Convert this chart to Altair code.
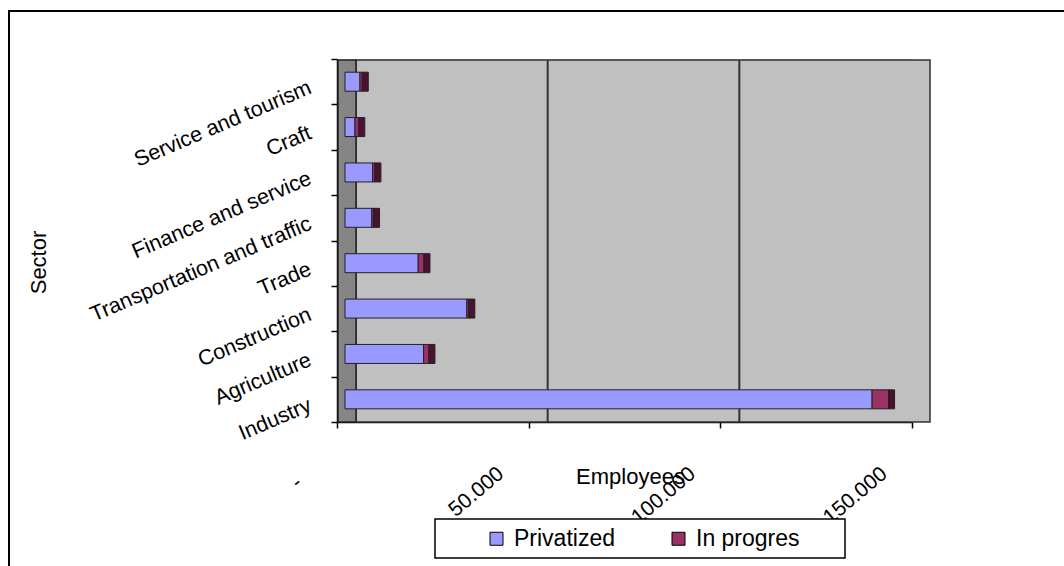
import altair as alt
import pandas as pd

# ---- data ----
sectors = ["Industry", "Agriculture", "Construction", "Trade",
           "Transportation and traffic", "Finance and service", "Craft",
           "Service and tourism"]
privatized = [137500, 20500, 31800, 19100, 7000, 7200, 2600, 3900]
in_progress = [4300, 1400, 500, 1500, 450, 600, 1000, 600]

series_names = ["Privatized", "In progres"]
series_colors = ["#9999FF", "#993366"]
x_tick_values = [0, 50000, 100000, 150000]
x_tick_labels = ["-", "50.000", "100.000", "150.000"]
gridline_values = [50000, 100000]
x_max = 150000

# ---- tables built from the arrays ----
rows = []
for i, s in enumerate(sectors):
    rows.append({"Sector": s, "Series": series_names[0], "Employees": privatized[i], "order": 0})
    rows.append({"Sector": s, "Series": series_names[1], "Employees": in_progress[i], "order": 1})
df = pd.DataFrame(rows)
totals = pd.DataFrame({"Sector": sectors,
                       "Total": [p + q for p, q in zip(privatized, in_progress)]})
grid_df = pd.DataFrame({"v": gridline_values})
one = pd.DataFrame({"k": [0]})

W, H = 575, 363
FONT = "Liberation Sans"

label_expr = " : ".join(
    f"datum.value == {v} ? '{t}'" for v, t in zip(x_tick_values, x_tick_labels)
) + " : ''"

xscale = alt.Scale(domain=[0, x_max], nice=False, zero=True)
yscale = alt.Scale(domain=list(reversed(sectors)), paddingInner=0, paddingOuter=0)

x_axis = alt.Axis(
    title="Employees", values=x_tick_values, labelExpr=label_expr,
    grid=False, tickSize=6, tickColor="black", tickWidth=1.5,
    domainColor="black", domainWidth=1.5,
    labelAngle=320, labelAlign="right", labelBaseline="middle",
    labelPadding={"condition": {"test": "datum.value == 0", "value": 52}, "value": 43},
    labelOffset={"condition": {"test": "datum.value == 0", "value": -38}, "value": -28},
    labelFontSize=21, labelFont=FONT, labelColor="black",
    labelOverlap=False, labelFlush=False, labelBound=False,
    titleFontSize=22, titleFont=FONT, titleFontWeight="normal", titleColor="black",
    titleX=293, titleY=61, titleAlign="center", titleBaseline="alphabetic",
)
y_axis = alt.Axis(
    title="Sector", tickBand="extent", grid=False,
    tickSize=6, tickColor="black", tickWidth=1.5,
    domainColor="black", domainWidth=1.5,
    labelAngle=337, labelAlign="right", labelBaseline="middle",
    labelPadding=21, labelOffset=5, labelFontSize=21.5, labelFont=FONT,
    labelColor="black", labelOverlap=False, labelLimit=400,
    titleFontSize=22, titleFont=FONT, titleFontWeight="normal", titleColor="black",
    titleAngle=270, titleX=-292, titleY=203, titleAlign="center",
    titleBaseline="alphabetic",
)

# outer frame (only top/left visible inside window)
frame = alt.Chart(one).mark_rect(filled=False, stroke="black", strokeWidth=2).encode(
    x=alt.value(-328), x2=alt.value(900), y=alt.value(-48), y2=alt.value(700)
)

# back wall
back_wall = alt.Chart(one).mark_rect(
    fill="#C0C0C0", stroke="#303030", strokeWidth=1.5, xOffset=19, x2Offset=18
).encode(
    x=alt.X(datum=0, type="quantitative", scale=xscale, axis=x_axis),
    x2=alt.X2(datum=x_max),
    y=alt.value(1), y2=alt.value(H),
)

# side wall
side_wall = alt.Chart(one).mark_rect(
    fill="#858585", stroke="#202020", strokeWidth=1.5, xOffset=1, x2Offset=19
).encode(
    x=alt.X(datum=0, type="quantitative", scale=xscale, axis=x_axis),
    x2=alt.X2(datum=0),
    y=alt.value(1), y2=alt.value(H),
)

grid = alt.Chart(grid_df).mark_rule(color="#333333", strokeWidth=2, xOffset=19).encode(
    x=alt.X("v:Q", scale=xscale, axis=x_axis),
    y=alt.value(1), y2=alt.value(H),
)

bars = alt.Chart(df).mark_bar(
    size=19, xOffset=8, x2Offset=8, stroke="#222222", strokeWidth=1
).encode(
    x=alt.X("sum(Employees):Q", scale=xscale, stack="zero", axis=x_axis),
    y=alt.Y("Sector:N", scale=yscale, axis=y_axis),
    color=alt.Color("Series:N", scale=alt.Scale(domain=series_names, range=series_colors),
                    legend=alt.Legend(
                        orient="none", legendX=148, legendY=468, direction="horizontal",
                        title=None, symbolType="square", symbolSize=169,
                        symbolStrokeColor="black", symbolStrokeWidth=1, symbolOpacity=1,
                        labelFontSize=23, labelFont=FONT, labelColor="black",
                        labelOffset=6, columnPadding=52, padding=0,
                    )),
    order=alt.Order("order:Q", sort="ascending"),
)

side_face = alt.Chart(totals).mark_bar(
    size=19, xOffset=8, x2Offset=14, color="#4A1232", stroke="#222222", strokeWidth=1
).encode(
    x=alt.X("Total:Q", scale=xscale, axis=x_axis),
    x2="Total:Q",
    y=alt.Y("Sector:N", scale=yscale, axis=y_axis),
)

legend_box = alt.Chart(one).mark_rect(fill="white", stroke="black", strokeWidth=1.5).encode(
    x=alt.value(98), x2=alt.value(508), y=alt.value(460), y2=alt.value(499)
)

chart = alt.layer(
    frame, back_wall, side_wall, grid, bars, side_face, legend_box
).properties(
    width=W, height=H,
    autosize=alt.AutoSizeParams(type="none"),
    padding={"left": 337, "top": 59, "right": 152, "bottom": 144},
    background="white",
).configure_view(strokeWidth=0).configure(font=FONT)

chart.save("out.html", embed_options={"renderer": "svg", "actions": False})
